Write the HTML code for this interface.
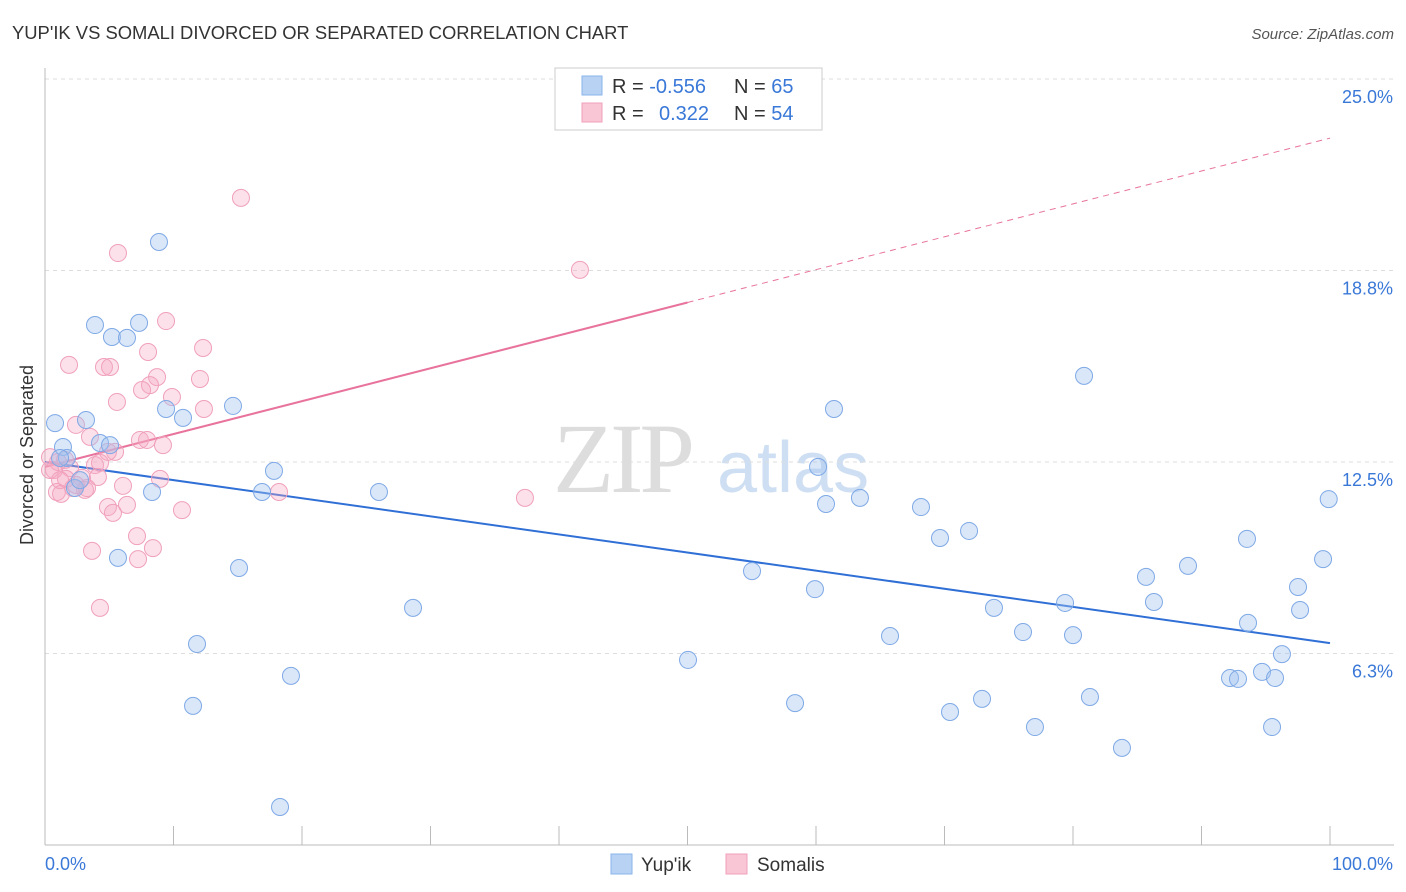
<!DOCTYPE html>
<html><head><meta charset="utf-8">
<style>
body{margin:0;background:#fff;font-family:"Liberation Sans",sans-serif;}
svg{display:block}
</style></head>
<body>
<svg id="chart" width="1406" height="892" viewBox="0 0 1406 892">
<text x="12" y="39" font-size="18.4" fill="#333">YUP'IK VS SOMALI DIVORCED OR SEPARATED CORRELATION CHART</text>
<text x="1394" y="39" font-size="15" fill="#555" font-style="italic" text-anchor="end">Source: ZipAtlas.com</text>
<text transform="translate(33,455) rotate(-90)" font-size="18" fill="#333" text-anchor="middle">Divorced or Separated</text>
<g>
<text x="553" y="492" font-family="Liberation Serif,serif" font-size="100" fill="#ddd" letter-spacing="-4">ZIP</text>
<text x="717" y="492" font-size="72" fill="#cfdff3">atlas</text>
</g>
<g id="grid"></g>
<g id="axes"></g>
<g id="trend"></g>
<g id="points"></g>
<g>
<rect x="555" y="68" width="267" height="62" fill="#fff" stroke="#ccc"/>
<rect x="582" y="76" width="20" height="19" fill="#b8d2f4" stroke="#8ab4ea"/>
<rect x="582" y="103" width="20" height="19" fill="#f9c6d6" stroke="#f0a0bb"/>
<text x="612" y="93" font-size="20" fill="#333">R = <tspan fill="#3a78d8">-0.556</tspan></text>
<text x="734" y="93" font-size="20" fill="#333">N = <tspan fill="#3a78d8">65</tspan></text>
<text x="612" y="120" font-size="20" fill="#333">R = <tspan fill="#3a78d8" x="659">0.322</tspan></text>
<text x="734" y="120" font-size="20" fill="#333">N = <tspan fill="#3a78d8">54</tspan></text>
</g>
<g>
<rect x="611" y="854" width="21" height="20" fill="#b8d2f4" stroke="#8ab4ea"/>
<text x="641" y="871" font-size="19" fill="#333">Yup'ik</text>
<rect x="726" y="854" width="21" height="20" fill="#f9c6d6" stroke="#f0a0bb"/>
<text x="757" y="871" font-size="19" fill="#333">Somalis</text>
</g>
</svg>
<script>
const yTickValues=[25,18.75,12.5,6.25];
const yTickLabels=["25.0%","18.8%","12.5%","6.3%"];
const xTickLabels=["0.0%","100.0%"];
const blueX=[0.78,3.19,1.40,4.28,5.06,1.71,1.17,2.33,2.72,3.89,5.21,6.38,7.32,8.87,9.42,10.74,14.63,8.33,5.68,15.10,11.83,11.52,19.14,18.29,17.82,16.89,25.99,28.64,50.04,55.02,58.37,59.92,61.40,60.16,60.78,63.42,65.76,68.17,69.65,70.43,71.91,72.92,73.85,76.11,77.04,79.38,80.00,81.32,80.86,83.81,85.68,86.30,88.95,92.22,92.84,93.62,93.54,94.71,95.72,96.26,95.49,97.51,97.67,99.46,99.9];
const blueY=[13.77,13.87,12.99,13.12,13.05,12.63,12.63,11.65,11.91,16.97,16.58,16.55,17.04,19.68,14.23,13.94,14.33,11.52,9.37,9.04,6.56,4.54,5.52,1.24,12.21,11.52,11.52,7.74,6.04,8.94,4.63,8.35,14.23,12.34,11.13,11.33,6.82,11.03,10.02,4.34,10.25,4.77,7.74,6.95,3.85,7.90,6.85,4.83,15.31,3.17,8.75,7.93,9.11,5.45,5.42,7.25,9.99,5.65,5.45,6.23,3.85,8.42,7.67,9.33,11.29];
const pinkX=[15.25,5.68,41.63,9.42,12.30,8.02,1.87,4.59,5.06,8.72,12.06,8.17,7.55,9.88,5.60,12.37,2.41,7.39,3.50,9.18,7.94,5.45,0.39,1.01,3.89,4.28,1.95,0.70,2.88,1.63,4.12,6.07,8.95,3.11,0.93,1.25,2.18,18.21,37.35,4.90,6.38,5.29,10.66,7.16,3.66,8.40,7.24,4.28,0.39,1.17,2.41,3.27,1.56,4.90];
const pinkY=[21.12,19.32,18.77,17.10,16.22,16.09,15.67,15.60,15.60,15.27,15.21,15.01,14.85,14.62,14.46,14.23,13.71,13.22,13.32,13.05,13.22,12.83,12.66,12.50,12.40,12.47,12.30,12.24,11.98,11.95,12.01,11.72,11.95,11.59,11.52,11.46,11.65,11.52,11.33,11.03,11.10,10.84,10.93,10.08,9.60,9.69,9.33,7.74,12.24,11.91,11.75,11.65,12.57,12.83];
const blueTrend=[12.5,6.59];
const pinkTrend=[12.34,23.07];

const NS="http://www.w3.org/2000/svg";
const X0=45,X1=1330,Y0=845,Y1=79;
const sx=v=>X0+(X1-X0)*v/100;
const sy=v=>Y0-(Y0-Y1)*v/25;
function mk(tag,attrs,parent){const e=document.createElementNS(NS,tag);for(const k in attrs)e.setAttribute(k,attrs[k]);parent.appendChild(e);return e;}
const grid=document.getElementById('grid'),axes=document.getElementById('axes'),trend=document.getElementById('trend'),pts=document.getElementById('points');
yTickValues.forEach((v,i)=>{
 const l=mk('line',{x1:X0,x2:1394,y1:sy(v),y2:sy(v),stroke:'#ddd','stroke-dasharray':'4,4'},grid);
 
 
 const t=mk('text',{x:1393,y:sy(v)+24,'font-size':18,fill:'#3a78d8','text-anchor':'end'},grid);
 t.textContent=yTickLabels[i];
 
 
});
const ya=mk('line',{x1:X0,x2:X0,y1:68,y2:Y0,stroke:'#bbb'},axes);


const xa=mk('line',{x1:X0,x2:1394,y1:Y0,y2:Y0,stroke:'#bbb'},axes);


for(let v=10;v<=100;v+=10){
 const t=mk('line',{x1:sx(v),x2:sx(v),y1:Y0-19,y2:Y0,stroke:'#bbb'},axes);
 
 
}
[[0,'start',45],[100,'end',1393]].forEach((d,i)=>{
 const t=mk('text',{x:d[2],y:870,'font-size':18,fill:'#3a78d8','text-anchor':d[1]},axes);
 t.textContent=xTickLabels[i];
 
 
});
const tv=(tr,x)=>tr[0]+(tr[1]-tr[0])*x/100;
const pd=mk('line',{x1:sx(50),y1:sy(tv(pinkTrend,50)),x2:sx(100),y2:sy(tv(pinkTrend,100)),stroke:'#e8739c','stroke-width':1,'stroke-dasharray':'6,5'},trend);


function drawPts(xs,ys,fill,stroke,name){
 xs.forEach((x,i)=>{
  const c=mk('circle',{cx:sx(x),cy:sy(ys[i]),r:8.5,fill:fill,stroke:stroke,'stroke-width':1},pts);
  
  
 });
}
drawPts(pinkX,pinkY,'rgba(246,170,196,0.35)','#f0a0bb','somalis-point');
drawPts(blueX,blueY,'rgba(160,196,240,0.4)','#7fa9e6','yupik-point');
const bl=mk('line',{x1:sx(0),y1:sy(tv(blueTrend,0)),x2:sx(100),y2:sy(tv(blueTrend,100)),stroke:'#2f6fd6','stroke-width':2},trend);


const pl=mk('line',{x1:sx(0),y1:sy(tv(pinkTrend,0)),x2:sx(50),y2:sy(tv(pinkTrend,50)),stroke:'#e8739c','stroke-width':2},trend);


</script>
</body></html>
